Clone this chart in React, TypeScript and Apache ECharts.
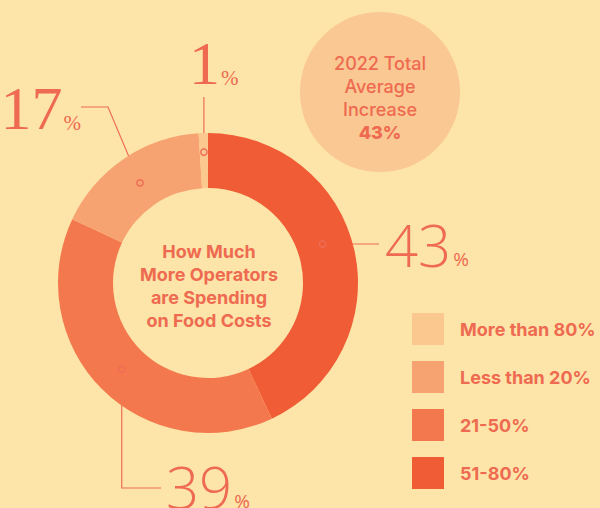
import React, { useEffect, useRef } from "react";
import * as echarts from "echarts";

// ---- data ----
const categories = ["51-80%", "21-50%", "Less than 20%", "More than 80%"];
const values = [43, 39, 17, 1];
const sliceColors = ["#F05C36", "#F3784D", "#F7A271", "#FBC890"];
const legendOrder = ["More than 80%", "Less than 20%", "21-50%", "51-80%"];
const centerTitle = ["How Much", "More Operators", "are Spending", "on Food Costs"];
const badgeLines = ["2022 Total", "Average", "Increase"];
const badgeValue = "43%";

// ---- layout ----
const BG = "#FDE4A8";
const INK = "#EE6A50";
const LINE = "#EE6D55";
const CX = 208;
const CY = 283;
const R_IN = 95;
const R_OUT = 150;
const SANS = "Inter, 'Open Sans', sans-serif";
const LIGHT = "'Open Sans', Lato, sans-serif";
const SERIF = "'Liberation Serif', 'DejaVu Serif', serif";

type Pt = [number, number];
const leaderLayout: Record<string, any> = {
  "51-80%": { frac: 0.46, r: 121, font: "light", route: (m: Pt) => [[379, m[1]]], label: (m: Pt) => ({ x: 385, y: m[1], align: "left" }) },
  "21-50%": { frac: 0.5, r: 122, font: "light", route: (m: Pt) => [[m[0], 488], [161, 488]], label: () => ({ x: 166, y: 486, align: "left" }) },
  "Less than 20%": { frac: 0.5, r: 121, font: "serif", route: () => [[108, 107], [81, 107]], label: () => ({ x: 81, y: 108, align: "right" }) },
  "More than 80%": { frac: 0.5, r: 131, font: "serif", route: (m: Pt) => [[m[0], 97]], label: (m: Pt) => ({ x: m[0] - 15, y: 63, align: "left" }) },
};

function buildGraphics() {
  const total = values.reduce((a, b) => a + b, 0);
  const els: any[] = [];
  // badge
  els.push({ type: "circle", shape: { cx: 380, cy: 92, r: 80 }, style: { fill: "#FAC892" }, silent: true });
  els.push({
    type: "text",
    x: 380,
    y: 98,
    style: {
      text: badgeLines.map((l) => `{a|${l}}`).join("\n") + `\n{b|${badgeValue}}`,
      align: "center",
      verticalAlign: "middle",
      rich: {
        a: { fontSize: 18, fontFamily: SANS, fontWeight: 500, fill: INK, lineHeight: 23, align: "center" },
        b: { fontSize: 18, fontFamily: SANS, fontWeight: 800, fill: INK, lineHeight: 23, align: "center" },
      },
    },
    silent: true,
  });
  // center title
  els.push({
    type: "text",
    x: CX + 1,
    y: 286,
    style: {
      text: centerTitle.join("\n"),
      align: "center",
      verticalAlign: "middle",
      fontSize: 18,
      fontFamily: SANS,
      fontWeight: 700,
      lineHeight: 23,
      fill: INK,
    },
    silent: true,
  });
  // leaders
  let cum = 0;
  categories.forEach((name, i) => {
    const v = values[i];
    const a0 = 90 - (360 * cum) / total;
    const a1 = a0 - (360 * v) / total;
    cum += v;
    const L = leaderLayout[name];
    const ang = ((a0 + (a1 - a0) * L.frac) * Math.PI) / 180;
    const m: Pt = [CX + L.r * Math.cos(ang), CY - L.r * Math.sin(ang)];
    const pts = [m, ...L.route(m)];
    els.push({ type: "polyline", shape: { points: pts }, style: { stroke: LINE, lineWidth: 1.2, fill: null }, silent: true });
    els.push({ type: "circle", shape: { cx: m[0], cy: m[1], r: 3.2 }, style: { fill: sliceColors[i], stroke: LINE, lineWidth: 1.4 }, silent: true, z: 10 });
    const lab = L.label(m);
    const isSerif = L.font === "serif";
    els.push({
      type: "text",
      x: lab.x,
      y: lab.y,
      style: {
        text: `{n|${v}}{p|%}`,
        align: lab.align,
        verticalAlign: "middle",
        rich: {
          n: isSerif
            ? { fontSize: 62, fontFamily: SERIF, fontWeight: 400, fill: INK }
            : { fontSize: 58, fontFamily: LIGHT, fontWeight: 300, fill: INK },
          p: isSerif
            ? { fontSize: 21, fontFamily: SERIF, fill: INK, verticalAlign: "bottom", padding: [0, 0, 6, 1] }
            : { fontSize: 19, fontFamily: LIGHT, fontWeight: 400, fill: INK, verticalAlign: "bottom", padding: [0, 0, 5, 2] },
        },
      },
      silent: true,
      z: 10,
    });
  });
  return els;
}

export default function App() {
  const ref = useRef<HTMLDivElement>(null);
  useEffect(() => {
    if (!ref.current) return;
    const chart = echarts.init(ref.current, undefined, { renderer: "svg" });
    chart.setOption({
      animation: false,
      backgroundColor: BG,
      legend: {
        orient: "vertical",
        left: 412,
        top: 313,
        padding: 0,
        icon: "rect",
        itemWidth: 32,
        itemHeight: 32,
        itemGap: 16,
        selectedMode: false,
        data: legendOrder,
        textStyle: { color: INK, fontSize: 18, fontWeight: 700, fontFamily: SANS, padding: [0, 0, 0, 11] },
      },
      series: [
        {
          type: "pie",
          center: [CX, CY],
          radius: [R_IN, R_OUT],
          startAngle: 90,
          clockwise: true,
          silent: true,
          label: { show: false },
          labelLine: { show: false },
          emphasis: { disabled: true },
          itemStyle: { borderWidth: 0 },
          data: categories.map((name, i) => ({ name, value: values[i], itemStyle: { color: sliceColors[i] } })),
        },
      ],
      graphic: buildGraphics(),
    });
    return () => chart.dispose();
  }, []);
  return <div ref={ref} style={{ position: "fixed", left: 0, top: 0, width: 600, height: 508 }} />;
}
